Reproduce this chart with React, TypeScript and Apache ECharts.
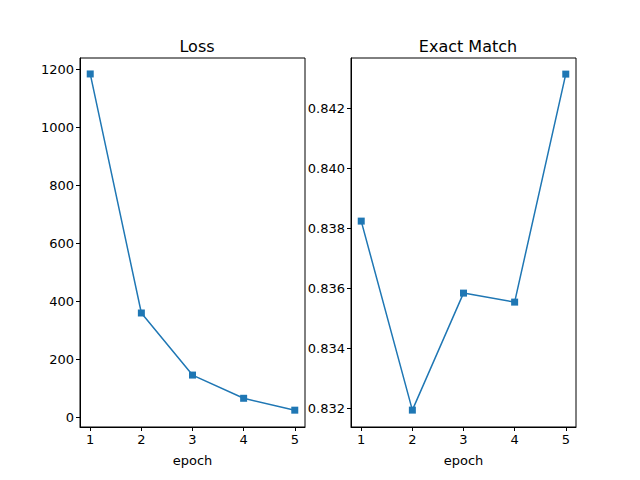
import React, { useEffect, useRef } from 'react';
import * as echarts from 'echarts';

const epochs = [1, 2, 3, 4, 5];
const lossValues = [1183, 359, 145, 65, 24];
const exactMatchValues = [0.83823, 0.83193, 0.83583, 0.83553, 0.84313];
const lossTicks = [0, 200, 400, 600, 800, 1000, 1200];
const emTicks = [0.832, 0.834, 0.836, 0.838, 0.84, 0.842];

const blue = '#1f77b4';
const font = 'DejaVu Sans';

const App = () => {
  const chartRef = useRef<HTMLDivElement>(null);

  useEffect(() => {
    const chart = echarts.init(chartRef.current!, null, { renderer: 'svg' });

    const xAxisFor = (gridIndex: number) => ({
      type: 'value',
      gridIndex,
      min: 0.8,
      max: 5.2,
      name: 'epoch',
      nameLocation: 'middle',
      nameGap: 27,
      nameTextStyle: { color: '#000', fontSize: 13, fontFamily: font },
      splitLine: { show: false },
      axisLine: { show: true, onZero: false, lineStyle: { color: '#000' } },
      axisTick: { show: true, length: 4, lineStyle: { color: '#000' }, customValues: epochs },
      axisLabel: { color: '#000', fontSize: 13, fontFamily: font, margin: 6, customValues: epochs }
    });

    const yAxisFor = (gridIndex: number, min: number, max: number, ticks: number[], digits: number) => ({
      type: 'value',
      gridIndex,
      min,
      max,
      splitLine: { show: false },
      axisLine: { show: true, onZero: false, lineStyle: { color: '#000' } },
      axisTick: { show: true, length: 4, lineStyle: { color: '#000' }, customValues: ticks },
      axisLabel: {
        color: '#000',
        fontSize: 13,
        fontFamily: font,
        margin: 6,
        customValues: ticks,
        formatter: (v: number) => v.toFixed(digits)
      }
    });

    const seriesFor = (idx: number, values: number[]) => ({
      type: 'line',
      xAxisIndex: idx,
      yAxisIndex: idx,
      data: epochs.map((e, i) => [e, values[i]]),
      symbol: 'rect',
      symbolSize: 7,
      lineStyle: { color: blue, width: 1.5 },
      itemStyle: { color: blue }
    });

    chart.setOption({
      animation: false,
      title: [
        { text: 'Loss', left: 192, top: 33, textAlign: 'center',
          textStyle: { fontSize: 16, fontWeight: 'normal', fontFamily: font, color: '#000' } },
        { text: 'Exact Match', left: 463, top: 33, textAlign: 'center',
          textStyle: { fontSize: 16, fontWeight: 'normal', fontFamily: font, color: '#000' } }
      ],
      grid: [
        { left: 80, top: 58, width: 225, height: 369, show: true, borderColor: '#000', borderWidth: 1 },
        { left: 351, top: 58, width: 225, height: 369, show: true, borderColor: '#000', borderWidth: 1 }
      ],
      xAxis: [xAxisFor(0), xAxisFor(1)],
      yAxis: [
        yAxisFor(0, -34, 1238, lossTicks, 0),
        yAxisFor(1, 0.831367, 0.843667, emTicks, 3)
      ],
      series: [seriesFor(0, lossValues), seriesFor(1, exactMatchValues)]
    });

    return () => chart.dispose();
  }, []);

  return (
    <div
      ref={chartRef}
      style={{ position: 'absolute', left: 0, top: 0, width: 640, height: 480, background: '#fff' }}
    />
  );
};

export default App;
